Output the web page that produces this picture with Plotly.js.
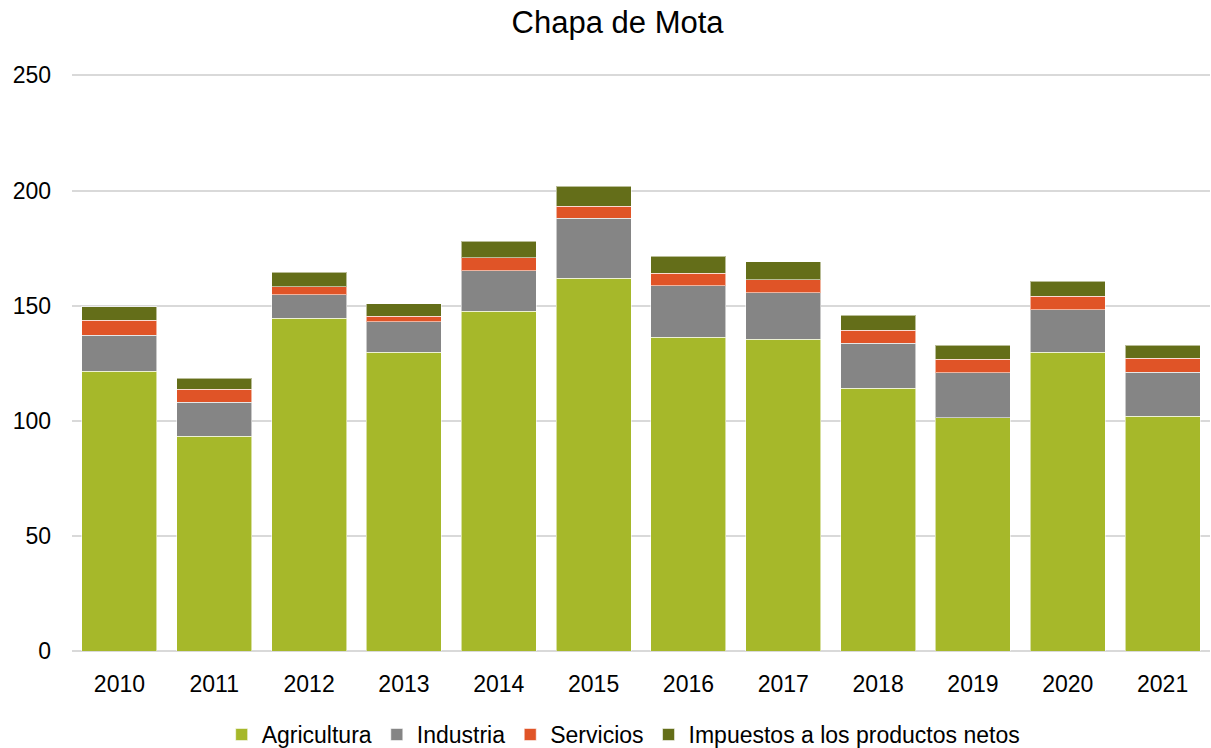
<!DOCTYPE html>
<html>
<head>
<meta charset="utf-8">
<script src="https://cdn.plot.ly/plotly-3.0.1.min.js"></script>
<style>html,body{margin:0;padding:0;background:#fff;}#chart{width:1211px;height:748px;}</style>
</head>
<body>
<div id="chart"></div>
<script>
const years = ["2010","2011","2012","2013","2014","2015","2016","2017","2018","2019","2020","2021"];
const agricultura = [121.6, 93.3, 144.6, 129.8, 147.5, 161.9, 136.3, 135.3, 114.2, 101.2, 129.8, 102.0];
const industria   = [15.5, 14.7, 10.2, 13.3, 17.7, 26.1, 22.4, 20.4, 19.4, 19.7, 18.5, 19.0];
const servicios   = [6.5, 5.7, 3.5, 2.2, 5.5, 5.2, 5.4, 5.6, 5.8, 5.9, 5.7, 6.1];
const impuestos   = [6.0, 4.7, 6.2, 5.6, 7.2, 8.6, 7.3, 7.7, 6.5, 5.9, 6.6, 5.8];
const seriesNames = ["Agricultura", "Industria", "Servicios", "Impuestos a los productos netos"];
const colors = ["#A6B82A", "#858585", "#E05427", "#646E19"];

const data = [agricultura, industria, servicios, impuestos].map((vals, i) => ({
  type: "bar",
  name: seriesNames[i],
  x: years,
  y: vals,
  marker: { color: colors[i], line: { color: "rgba(255,255,255,0.55)", width: 1 } },
  hoverinfo: "x+y+name"
}));

const layout = {
  width: 1211,
  height: 748,
  barmode: "stack",
  bargap: 0.21,
  paper_bgcolor: "#fff",
  plot_bgcolor: "#fff",
  font: { family: "Liberation Sans, Arial, sans-serif", color: "#000", size: 22 },
  title: { text: "Chapa de Mota", x: 0.51, xanchor: "center", y: 0.97, yanchor: "middle", font: { size: 31, color: "#000" } },
  margin: { l: 72, r: 1, t: 74, b: 97 },
  xaxis: {
    type: "category",
    showgrid: false,
    showline: false,
    zeroline: false,
    ticks: "",
    ticklabelstandoff: 17,
    tickfont: { size: 23 }
  },
  yaxis: {
    range: [0, 250.6],
    tickvals: [0, 50, 100, 150, 200, 250],
    showgrid: true,
    gridcolor: "#D9D9D9",
    gridwidth: 2,
    zeroline: true,
    zerolinecolor: "#D9D9D9",
    zerolinewidth: 2,
    showline: false,
    ticks: "",
    ticklabelstandoff: 20,
    tickfont: { size: 23 }
  },
  legend: {
    orientation: "h",
    xref: "container",
    yref: "container",
    x: 0.515, xanchor: "center",
    y: 0.018, yanchor: "middle",
    font: { size: 23 },
    traceorder: "normal",
    itemwidth: 30
  },
  showlegend: true
};

Plotly.newPlot("chart", data, layout, { displayModeBar: false, responsive: false });
</script>
</body>
</html>
